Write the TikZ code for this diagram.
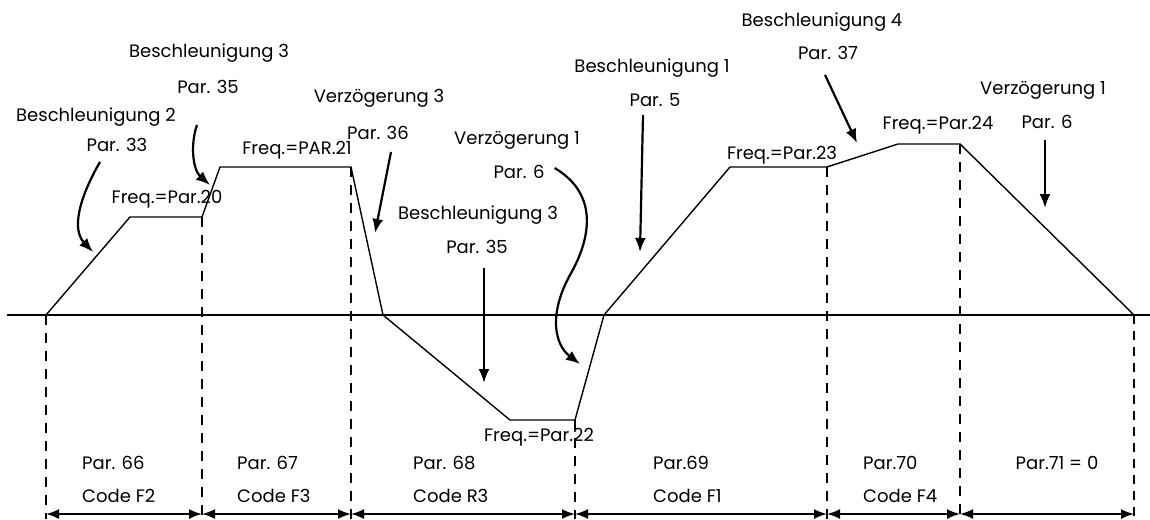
\documentclass[tikz,border=0pt]{standalone}
\usepackage{fontspec}
\setmainfont{Poppins}
\usetikzlibrary{arrows.meta, positioning}

\begin{document}
\begin{tikzpicture}[
                x=1pt, y=-1pt,
                >={Latex[length=14pt,width=11pt]},
                profil/.style={line width=1.4pt, line join=miter},
                achse/.style={line width=1.2pt},
                hilf/.style={line width=2.2pt, dash pattern=on 10pt off 8pt},
                hilfduenn/.style={line width=1.3pt, dash pattern=on 9pt off 7pt},
                pfeil/.style={->, line width=2.2pt},
                mass/.style={{Latex[length=13pt,width=10pt]}-{Latex[length=13pt,width=10pt]}, line width=1.8pt},
                every node/.style={font=\fontsize{18}{20}\selectfont, inner sep=0pt}
            ]
                \useasboundingbox (0,0) rectangle (1150,519);

                % Frequenzverlauf
                \coordinate (p0) at (46,315);
                \coordinate (p1) at (130,217);
                \coordinate (p2) at (202,217);
                \coordinate (p3) at (220,167);
                \coordinate (p4) at (351,167);
                \coordinate (p5) at (383,315);
                \coordinate (p6) at (510,420);
                \coordinate (p7) at (575,420);
                \coordinate (p8) at (604,315);
                \coordinate (p9) at (730,167);
                \coordinate (p10) at (827,167);
                \coordinate (p11) at (898,144);
                \coordinate (p12) at (960,144);
                \coordinate (p13) at (1134,315);
                \coordinate (links) at (7,315);
                \coordinate (rechts) at (1150,315);
                \coordinate (boden) at (0,519);
                \coordinate (masslinie) at (0,514);

                \draw[achse] (links) -- (rechts);
                \draw[profil] (p0) -- (p1) -- (p2) -- (p3) -- (p4) -- (p5) -- (p6)
                    -- (p7) -- (p8) -- (p9) -- (p10) -- (p11) -- (p12) -- (p13);

                \foreach \p in {p0, p2, p4, p7, p10, p12}
                    \draw[hilf] (\p) -- (\p |- boden);
                \draw[hilfduenn] (p13) -- (p13 |- boden);

                \draw[mass] (p0 |- masslinie) -- (p2 |- masslinie);
                \draw[mass] (p2 |- masslinie) -- (p4 |- masslinie);
                \draw[mass] (p4 |- masslinie) -- (p7 |- masslinie);
                \draw[mass] (p7 |- masslinie) -- (p10 |- masslinie);
                \draw[mass] (p10 |- masslinie) -- (p12 |- masslinie);
                \draw[mass] (p12 |- masslinie) -- (p13 |- masslinie);

                % Beschriftungen
                \node (besch2) at (96,117) {Beschleunigung 2};
                \node (besch2par) at (117,145) {Par. 33};
                \node (besch3) at (209,53) {Beschleunigung 3};
                \node (besch3par) at (208,87) {Par. 35};
                \node (freq20) at (167,199) {Freq.=Par.20};
                \node (freq21) at (297,150) {Freq.=PAR.21};
                \node (verz3) at (379,98) {Verzögerung 3};
                \node (verz3par) at (378,133) {Par. 36};
                \node (besch3b) at (478,215) {Beschleunigung 3};
                \node (besch3bpar) at (477,247) {Par. 35};
                \node (verz1) at (517,140) {Verzögerung 1};
                \node (verz1par) at (519,172) {Par. 6};
                \node (freq22) at (539,437) {Freq.=Par.22};
                \node (besch1) at (652,68) {Beschleunigung 1};
                \node (besch1par) at (655,100) {Par. 5};
                \node (besch4) at (822,22) {Beschleunigung 4};
                \node (besch4par) at (828,53) {Par. 37};
                \node (freq23) at (782,155) {Freq.=Par.23};
                \node (freq24) at (938,125) {Freq.=Par.24};
                \node (verz1b) at (1043,90) {Verzögerung 1};
                \node (verz1bpar) at (1047,122) {Par. 6};

                \node[anchor=west] (par66) at (82,463) {Par. 66};
                \node[anchor=west] (codef2) at (82,496) {Code F2};
                \node[anchor=west] (par67) at (237,463) {Par. 67};
                \node[anchor=west] (codef3) at (237,496) {Code F3};
                \node[anchor=west] (par68) at (413,463) {Par. 68};
                \node[anchor=west] (coder3) at (413,496) {Code R3};
                \node[anchor=west] (par69) at (653,463) {Par.69};
                \node[anchor=west] (codef1) at (653,496) {Code F1};
                \node[anchor=west] (par70) at (863,463) {Par.70};
                \node[anchor=west] (codef4) at (863,496) {Code F4};
                \node (par71) at (1057,463) {Par.71 = 0};

                % Pfeile auf die Rampen
                \coordinate (ziel1) at (93,252);
                \coordinate (ziel2) at (210,185);
                \coordinate (ziel3) at (375,233);
                \coordinate (ziel4) at (484,383);
                \coordinate (ziel5) at (580,364);
                \coordinate (ziel6) at (640,252);
                \coordinate (ziel7) at (857,143);
                \coordinate (ziel8) at (1045,208);

                \draw[pfeil] ([xshift=-17pt,yshift=-10pt]besch2par.south)
                    .. controls (78,200) and (72,230) .. (ziel1);
                \draw[pfeil] ([xshift=-11pt,yshift=-31pt]besch3par.south)
                    .. controls (190,145) and (193,170) .. (ziel2);
                \draw[pfeil] ([xshift=13pt,yshift=-12pt]verz3par.south) -- (ziel3);
                \draw[pfeil] ([xshift=7pt,yshift=-14pt]besch3bpar.south) -- (ziel4);
                \draw[pfeil] ([xshift=10pt,yshift=4pt]verz1par.east)
                    .. controls (600,195) and (590,240) .. (570,275)
                    .. controls (548,315) and (555,345) .. (ziel5);
                \draw[pfeil] ([xshift=-12pt,yshift=-8pt]besch1par.south) -- (ziel6);
                \draw[pfeil] ([xshift=-3pt,yshift=-15pt]besch4par.south) -- (ziel7);
                \draw[pfeil] ([xshift=-2pt,yshift=-11pt]verz1bpar.south) -- (ziel8);
            \end{tikzpicture}
\end{document}
